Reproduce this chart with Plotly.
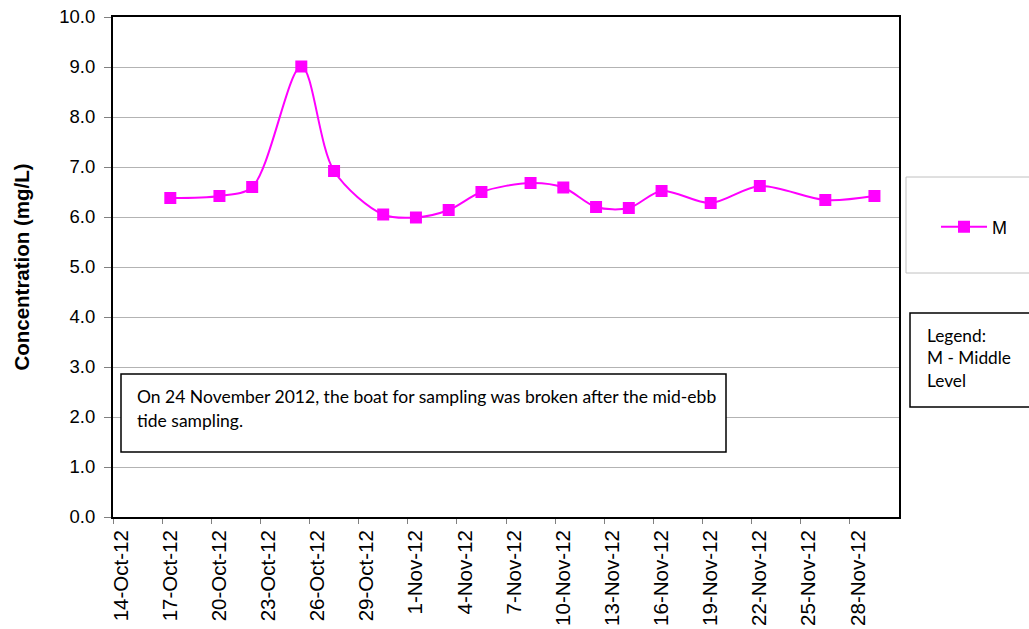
import plotly.graph_objects as go
import pandas as pd

# Data
dates = ["2012-10-17", "2012-10-20", "2012-10-22", "2012-10-25", "2012-10-27",
         "2012-10-30", "2012-11-01", "2012-11-03", "2012-11-05", "2012-11-08",
         "2012-11-10", "2012-11-12", "2012-11-14", "2012-11-16", "2012-11-19",
         "2012-11-22", "2012-11-26", "2012-11-29"]
m_values = [6.38, 6.42, 6.60, 9.01, 6.92, 6.05, 5.99, 6.14, 6.50, 6.68,
            6.59, 6.20, 6.18, 6.52, 6.28, 6.62, 6.34, 6.42]
tick_dates = pd.date_range("2012-10-14", "2012-11-28", freq="3D")
tick_labels = [f"{d.day}-{d.strftime('%b')}-{d.strftime('%y')}" for d in tick_dates]
y_ticks = [0, 1, 2, 3, 4, 5, 6, 7, 8, 9, 10]
y_labels = [f"{v:.1f}" for v in y_ticks]

note_lines = ["On 24 November 2012, the boat for sampling was broken after the mid-ebb",
              "tide sampling."]
legend_lines = ["Legend:", "M - Middle", "Level"]

# Excel "between tick marks": points sit in the middle of each day
x_pos = pd.to_datetime(dates) + pd.Timedelta(hours=12)

FONT = "Liberation Sans, Arial, sans-serif"
NOTE_FONT = "Lato, Open Sans, sans-serif"

fig = go.Figure()
fig.add_trace(go.Scatter(
    x=x_pos, y=m_values, name="M", mode="lines+markers",
    line=dict(color="#FF00FF", width=2, shape="spline", smoothing=0.9),
    marker=dict(symbol="square", size=12, color="#FF00FF"),
))

fig.update_layout(
    width=1029, height=629,
    margin=dict(l=113, r=130, t=17, b=112, autoexpand=False),
    paper_bgcolor="white", plot_bgcolor="white",
    font=dict(family=FONT, size=18, color="black"),
    showlegend=True,
    legend=dict(x=(936 - 113) / 786, y=(517 - 227) / 500, xanchor="left", yanchor="middle",
                bgcolor="rgba(0,0,0,0)", borderwidth=0,
                font=dict(size=18, family=FONT),
                itemwidth=46),
    xaxis=dict(
        type="date",
        range=["2012-10-14", "2012-12-01"],
        tickvals=tick_dates, ticktext=tick_labels,
        tickangle=-90, ticks="outside", ticklen=5, tickcolor="#808080",
        showgrid=False, zeroline=False, automargin=False,
        showline=True, linecolor="black", linewidth=2, mirror=True,
        tickfont=dict(size=20.5, family=FONT),
        ticklabelshift=8, ticklabelstandoff=-2,
    ),
    yaxis=dict(
        range=[0, 10], tickvals=y_ticks, ticktext=y_labels,
        ticks="outside", ticklen=7, tickcolor="#808080",
        showgrid=True, gridcolor="#b3b3b3", gridwidth=1, zeroline=False,
        automargin=False,
        showline=True, linecolor="black", linewidth=2, mirror=True,
        tickfont=dict(size=18.5, family=FONT),
        ticklabelstandoff=5,
        title=dict(text="<b>Concentration (mg/L)</b>", standoff=24,
                   font=dict(size=20.5, family=FONT)),
    ),
)

# Legend frame (gray)
fig.add_shape(type="rect", xref="paper", yref="paper",
              x0=(906 - 113) / 786, x1=(1040 - 113) / 786,
              y0=(517 - 273) / 500, y1=(517 - 177) / 500,
              line=dict(color="#c0c0c0", width=1), fillcolor="rgba(0,0,0,0)", layer="below")

# "Legend:" text box
fig.add_shape(type="rect", xref="paper", yref="paper",
              x0=(910 - 113) / 786, x1=(1040 - 113) / 786,
              y0=(517 - 407) / 500, y1=(517 - 313) / 500,
              line=dict(color="black", width=1.5), fillcolor="white")
for i, t in enumerate(legend_lines):
    fig.add_annotation(text=t, xref="paper", yref="paper",
                       x=(925 - 113) / 786, y=(517 - (335 + 22.5 * i)) / 500,
                       xanchor="left", yanchor="middle", showarrow=False,
                       font=dict(family=NOTE_FONT, size=17.3, color="black"))

# Note box
fig.add_shape(type="rect", xref="paper", yref="paper",
              x0=(121 - 113) / 786, x1=(726 - 113) / 786,
              y0=(517 - 452) / 500, y1=(517 - 374) / 500,
              line=dict(color="black", width=1.5), fillcolor="white")
for i, t in enumerate(note_lines):
    fig.add_annotation(text=t, xref="paper", yref="paper",
                       x=(135 - 113) / 786, y=(517 - (396 + 24 * i)) / 500,
                       xanchor="left", yanchor="middle", showarrow=False,
                       font=dict(family=NOTE_FONT, size=17.5, color="black"))

fig.write_html(
    "out.html",
    config={"displayModeBar": False},
    post_script="document.body.style.margin='0';document.body.style.overflow='hidden';",
)
